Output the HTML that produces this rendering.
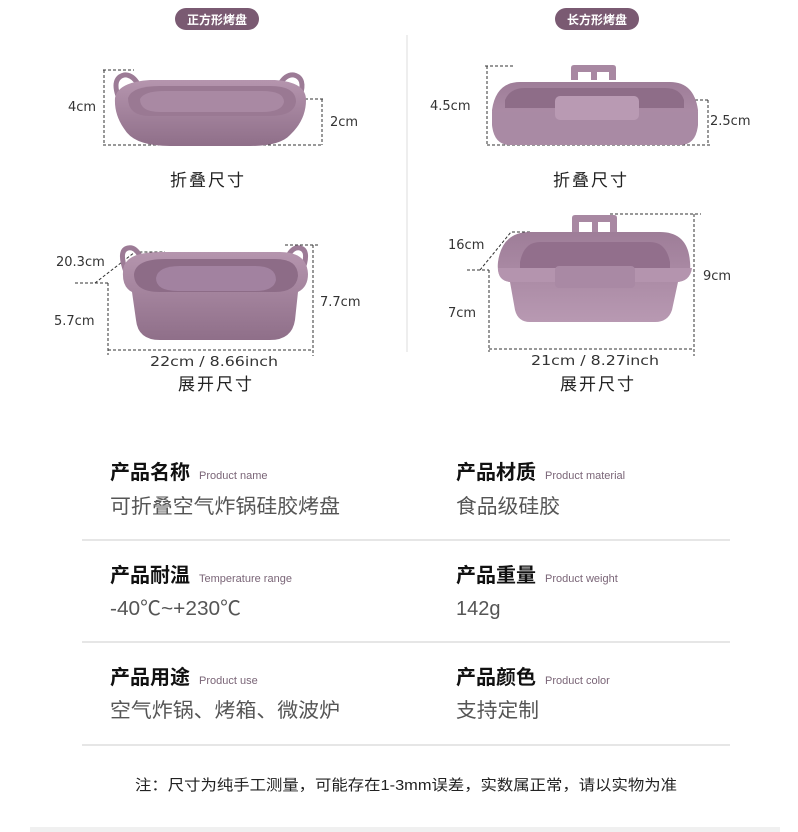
<!DOCTYPE html>
<html><head><meta charset="utf-8"><style>
html,body{margin:0;padding:0;background:#fff;width:798px;height:832px;overflow:hidden}
text{font-family:"Liberation Sans","Noto Sans CJK SC",sans-serif}
.d{font-family:"DejaVu Sans","Liberation Sans",sans-serif}
</style></head><body>
<svg width="798" height="832" viewBox="0 0 798 832" xmlns="http://www.w3.org/2000/svg">
<defs>
<linearGradient id="g1" x1="0" y1="0" x2="0" y2="1"><stop offset="0" stop-color="#b595ae"/><stop offset="1" stop-color="#8f6f89"/></linearGradient>
<linearGradient id="g2" x1="0" y1="0" x2="0" y2="1"><stop offset="0" stop-color="#9e7d98"/><stop offset="1" stop-color="#b899b2"/></linearGradient>
</defs>
<rect x="175" y="8" width="84" height="22" rx="11" fill="#7a5a72"/>
<text x="217" y="24" font-size="12" fill="#fff" text-anchor="middle" font-weight="bold">正方形烤盘</text>
<rect x="555" y="8" width="84" height="22" rx="11" fill="#7a5a72"/>
<text x="597" y="24" font-size="12" fill="#fff" text-anchor="middle" font-weight="bold">长方形烤盘</text>
<line x1="407" y1="35" x2="407" y2="352" stroke="#ddd" stroke-width="1"/>

<g stroke="#333" stroke-width="1" stroke-dasharray="3,2" fill="none">
<path d="M103 70H134M104 70V145M103 145H323M322 99V145M305 99H323"/>
<path d="M108 283V355M108 350H313M313 245V356M285 245H318M75 283H108M95 283L135 252H165"/>
<path d="M485 66H515M487 66V145M487 145H710M708 100V145M690 100H710"/>
<path d="M610 214H701M694 214V356M489 349H694M489 270V352M467 270H489M480 270L511 232H530"/>
</g>

<!-- tray1 folded -->
<path d="M118 96 Q112 78 124 75 Q132 74 138 84" fill="none" stroke="#9c7b96" stroke-width="5"/>
<path d="M300 96 Q306 78 294 75 Q286 74 280 84" fill="none" stroke="#9c7b96" stroke-width="5"/>
<path d="M115 98 Q118 82 150 80 H275 Q306 82 306 100 Q306 120 290 135 Q280 146 250 146 H170 Q135 146 125 130 Q114 115 115 98z" fill="url(#g1)"/>
<path d="M128 98 Q132 86 160 86 H270 Q296 86 296 102 Q294 116 270 116 H150 Q128 116 128 98z" fill="#9a7993"/>
<path d="M140 99 Q144 91 165 91 H262 Q284 91 284 102 Q282 112 262 112 H160 Q140 112 140 99z" fill="#a989a3"/>

<!-- tray1 expanded -->
<path d="M126 272 Q118 250 128 248 Q136 246 142 260" fill="none" stroke="#9c7b96" stroke-width="5"/>
<path d="M302 272 Q310 250 300 248 Q292 246 286 260" fill="none" stroke="#9c7b96" stroke-width="5"/>
<path d="M123 272 Q123 252 160 252 H280 Q307 252 308 274 Q308 287 298 292 L295 320 Q292 340 270 340 H160 Q138 340 136 320 L132 292 Q122 287 123 272z" fill="url(#g1)"/>
<path d="M134 274 Q136 259 165 259 H275 Q298 259 298 276 Q296 292 275 292 H160 Q134 292 134 274z" fill="#8d6c87"/>
<path d="M156 278 Q158 266 180 266 H255 Q276 266 276 280 Q274 291 255 291 H178 Q156 291 156 278z" fill="#a282a0"/>

<!-- tray2 folded -->
<path d="M571 80 V68 Q571 65 574 65 H613 Q616 65 616 68 V80 H609 V72 H597 V80 H591 V72 H578 V80z" fill="#a888a2"/>
<path d="M492 110 Q496 82 520 82 H670 Q694 82 698 110 Q698 145 680 145 H510 Q492 145 492 110z" fill="url(#g2)"/>
<path d="M492 112 H698 V125 Q696 145 680 145 H510 Q494 145 492 125z" fill="#a98aa4"/>
<path d="M505 100 Q510 88 525 88 H665 Q680 88 684 100 L684 108 H505z" fill="#8e6d88"/>
<rect x="555" y="96" width="84" height="24" rx="5" fill="#b99ab3"/>

<!-- tray2 expanded -->
<path d="M572 232 V218 Q572 215 575 215 H614 Q617 215 617 218 V232 H610 V222 H598 V232 H592 V222 H579 V232z" fill="#a888a2"/>
<path d="M498 262 Q502 232 530 232 H660 Q688 232 690 262 Q692 280 678 282 L672 310 Q668 322 655 322 H530 Q518 322 515 310 L510 282 Q496 280 498 262z" fill="url(#g2)"/>
<path d="M520 262 Q524 242 540 242 H650 Q666 242 670 262 V270 H520z" fill="#926f8c"/>
<path d="M498 268 H692 Q690 282 676 282 H512 Q498 282 498 268z" fill="#b494ae"/>
<rect x="555" y="266" width="80" height="22" rx="4" fill="#a989a4"/>

<g font-size="13" fill="#333" class="d">
<text class="d" x="68" y="111">4cm</text>
<text class="d" x="330" y="126">2cm</text>
<text class="d" x="56" y="266">20.3cm</text>
<text class="d" x="54" y="325">5.7cm</text>
<text class="d" x="320" y="306">7.7cm</text>
<text class="d" x="150" y="366" textLength="128" lengthAdjust="spacingAndGlyphs">22cm / 8.66inch</text>
<text class="d" x="430" y="110">4.5cm</text>
<text class="d" x="710" y="125">2.5cm</text>
<text class="d" x="448" y="249">16cm</text>
<text class="d" x="448" y="317">7cm</text>
<text class="d" x="703" y="280">9cm</text>
<text class="d" x="531" y="365" textLength="128" lengthAdjust="spacingAndGlyphs">21cm / 8.27inch</text>
</g>
<g font-size="17" fill="#222" text-anchor="middle" letter-spacing="2">
<text x="208" y="186">折叠尺寸</text>
<text x="591" y="186">折叠尺寸</text>
<text x="216" y="390">展开尺寸</text>
<text x="598" y="390">展开尺寸</text>
</g>

<g font-size="20" font-weight="bold" fill="#111">
<text x="110" y="479">产品名称</text>
<text x="456" y="479">产品材质</text>
<text x="110" y="582">产品耐温</text>
<text x="456" y="582">产品重量</text>
<text x="110" y="684">产品用途</text>
<text x="456" y="684">产品颜色</text>
</g>
<g font-size="11" fill="#7a6577">
<text x="199" y="479">Product name</text>
<text x="545" y="479">Product material</text>
<text x="199" y="582">Temperature range</text>
<text x="545" y="582">Product weight</text>
<text x="199" y="684">Product use</text>
<text x="545" y="684">Product color</text>
</g>
<g font-size="20" fill="#555">
<text x="110" y="513" textLength="230" lengthAdjust="spacingAndGlyphs">可折叠空气炸锅硅胶烤盘</text>
<text x="456" y="513" textLength="104" lengthAdjust="spacingAndGlyphs">食品级硅胶</text>
<text x="110" y="615" textLength="131" lengthAdjust="spacingAndGlyphs">-40℃~+230℃</text>
<text x="456" y="615">142g</text>
<text x="110" y="717" textLength="230" lengthAdjust="spacingAndGlyphs">空气炸锅、烤箱、微波炉</text>
<text x="456" y="717" textLength="83" lengthAdjust="spacingAndGlyphs">支持定制</text>
</g>
<g stroke="#ddd" stroke-width="1.5">
<line x1="82" y1="540" x2="730" y2="540"/>
<line x1="82" y1="642" x2="730" y2="642"/>
<line x1="82" y1="745" x2="730" y2="745"/>
</g>
<text x="135" y="790" font-size="15" fill="#222" textLength="542" lengthAdjust="spacingAndGlyphs">注：尺寸为纯手工测量，可能存在1-3mm误差，实数属正常，请以实物为准</text>
<rect x="30" y="827" width="750" height="5" fill="#f0f0f0"/>
</svg>
</body></html>
